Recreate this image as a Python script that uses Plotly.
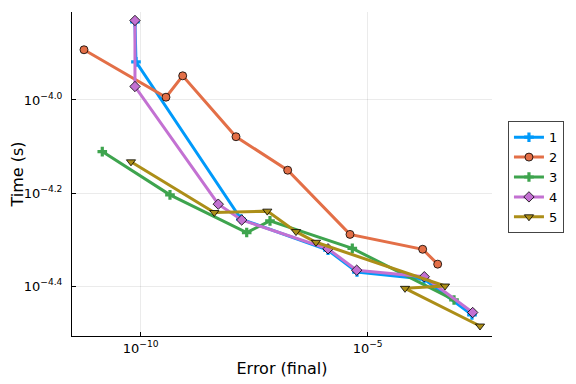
import plotly.graph_objects as go

# Data (values as log10 estimates)
s1_logx = [-10.126, -10.104, -7.791, -5.874, -5.236, -3.760, -2.703]
s1_logy = [-3.832, -3.918, -4.256, -4.323, -4.370, -4.385, -4.462]

s2_logx = [-11.249, -9.443, -9.075, -7.901, -6.762, -5.390, -3.789, -3.458]
s2_logy = [-3.892, -3.994, -3.948, -4.079, -4.151, -4.289, -4.321, -4.353]

s3_logx = [-10.846, -9.355, -7.665, -7.152, -5.339, -3.099]
s3_logy = [-4.111, -4.204, -4.285, -4.260, -4.319, -4.430]

s4_logx = [-10.126, -10.126, -8.291, -7.775, -5.874, -5.242, -3.753, -2.687]
s4_logy = [-3.829, -3.971, -4.224, -4.258, -4.320, -4.366, -4.380, -4.457]

s5_logx = [-10.214, -8.379, -7.211, -6.579, -6.139, -3.297, -4.178, -2.526]
s5_logy = [-4.133, -4.242, -4.239, -4.283, -4.306, -4.400, -4.405, -4.486]

names = ["1", "2", "3", "4", "5"]
colors = ["#009AFA", "#E36F47", "#3EA44E", "#C371D2", "#AC8E18"]
symbols = ["cross", "circle", "cross", "diamond", "triangle-down"]

xticks = [1e-10, 1e-5]
xtick_text = ["10<sup>−10</sup>", "10<sup>−5</sup>"]
yticks = [10 ** -4.0, 10 ** -4.2, 10 ** -4.4]
ytick_text = ["10<sup>−4.0</sup>", "10<sup>−4.2</sup>", "10<sup>−4.4</sup>"]

series = [(s1_logx, s1_logy), (s2_logx, s2_logy), (s3_logx, s3_logy),
          (s4_logx, s4_logy), (s5_logx, s5_logy)]

fig = go.Figure()
for i, (lx, ly) in enumerate(series):
    xs = [10 ** v for v in lx]
    ys = [10 ** v for v in ly]
    is_cross = symbols[i] == "cross"
    fig.add_trace(go.Scatter(
        x=xs, y=ys, name=names[i], mode="lines+markers",
        line=dict(color=colors[i], width=3),
        marker=dict(symbol=symbols[i], size=8,
                    color=colors[i],
                    line=dict(color="black" if not is_cross else colors[i],
                              width=0.8 if not is_cross else 0)),
    ))

# page body has an 8px margin, so the figure is 8px smaller and margins shifted
fig.update_layout(
    width=568, height=376,
    margin=dict(l=64, r=84, t=4, b=48, autoexpand=False),
    paper_bgcolor="white", plot_bgcolor="white",
    font=dict(family="DejaVu Sans", size=13, color="black"),
    showlegend=True,
    legend=dict(x=1.038, y=0.49, xanchor="left", yanchor="middle",
                bordercolor="#444", borderwidth=1, bgcolor="white",
                font=dict(size=13), tracegroupgap=0, itemwidth=30),
)
fig.update_xaxes(
    type="log", range=[-11.513, -2.262],
    tickvals=xticks, ticktext=xtick_text,
    showgrid=True, gridcolor="rgba(0,0,0,0.08)", gridwidth=0.5,
    showline=True, linecolor="black", linewidth=1, mirror=False,
    ticks="inside", ticklen=4, tickcolor="black", zeroline=False,
    title=dict(text="Error (final)", font=dict(size=16), standoff=8),
    tickfont=dict(size=13), automargin=True,
)
fig.update_yaxes(
    type="log", range=[-4.5075, -3.8108],
    tickvals=yticks, ticktext=ytick_text,
    showgrid=True, gridcolor="rgba(0,0,0,0.08)", gridwidth=0.5,
    showline=True, linecolor="black", linewidth=1, mirror=False,
    ticks="inside", ticklen=4, tickcolor="black", zeroline=False,
    title=dict(text="Time (s)", font=dict(size=16), standoff=16),
    tickfont=dict(size=13), automargin=True, ticklabelstandoff=6,
)

fig.write_html("out.html")
